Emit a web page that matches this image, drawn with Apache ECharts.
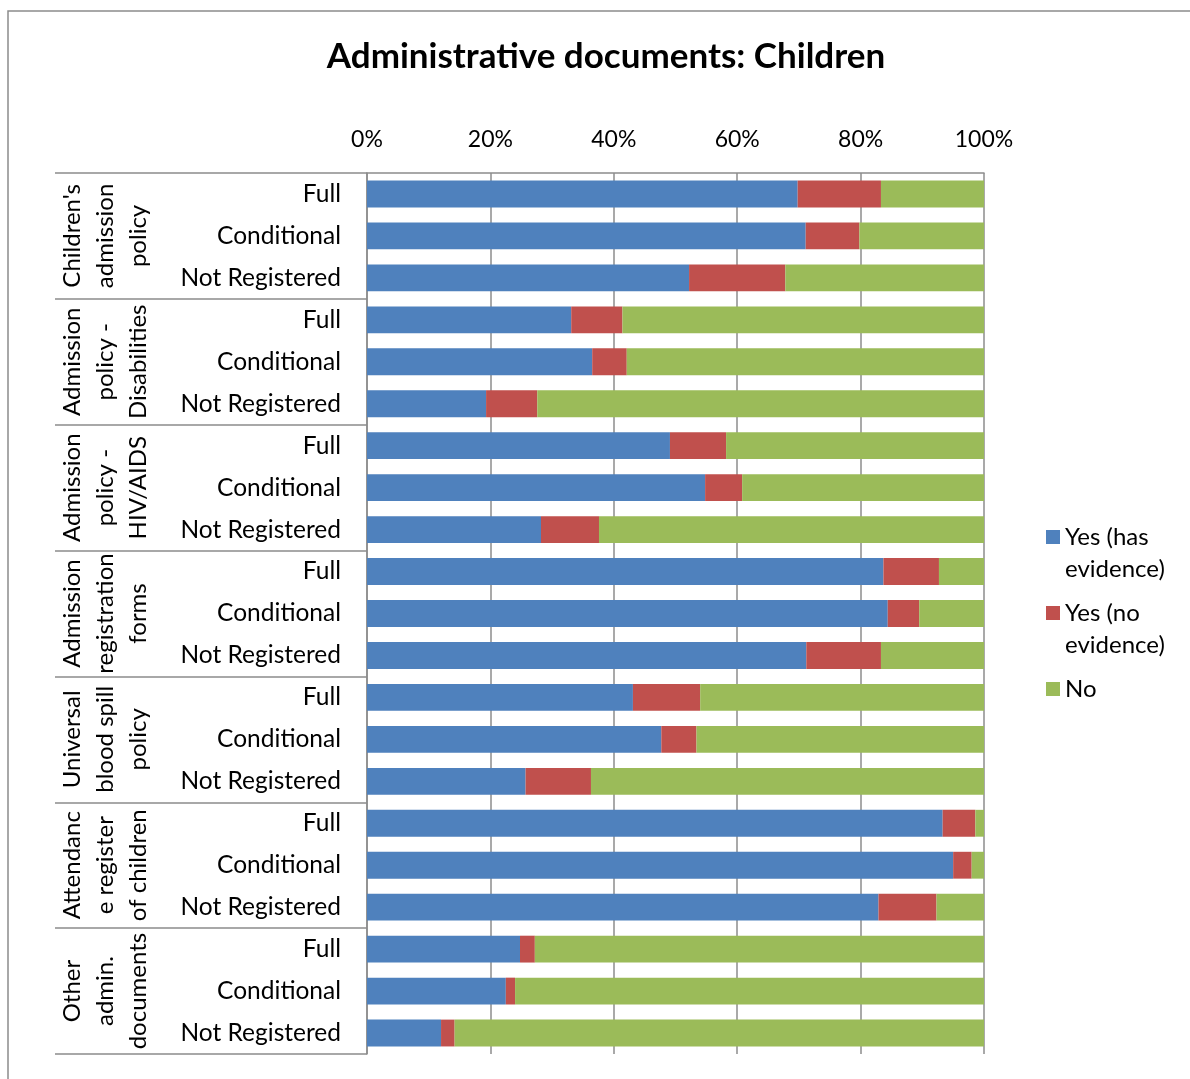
<!DOCTYPE html>
<html>
<head>
<meta charset="UTF-8" />
<title>Administrative documents: Children</title>
<script src="https://cdn.jsdelivr.net/npm/echarts@6/dist/echarts.min.js"></script>
<style>
  html, body { margin: 0; padding: 0; background: #fff; }
  #main { width: 1190px; height: 1079px; }
</style>
</head>
<body>
<div id="main"></div>
<script type="text/javascript">

    // groups (rotated labels on the left)
    var groups = [
        "Children's\nadmission\npolicy",
        "Admission\npolicy -\nDisabilities",
        "Admission\npolicy -\nHIV/AIDS",
        "Admission\nregistration\nforms",
        "Universal\nblood spill\npolicy",
        "Attendanc\ne register\nof children",
        "Other\nadmin.\ndocuments"
    ];
    // sub categories for every group
    var statuses = ["Full", "Conditional", "Not Registered"];

    // series (percent)
    var seriesNames = ["Yes (has evidence)", "Yes (no evidence)", "No"];
    var hasEvidence = [69.8, 71.1, 52.2, 33.1, 36.5, 19.3, 49.1, 54.8, 28.2, 83.7, 84.4, 71.2, 43.1, 47.7, 25.7, 93.3, 95.0, 82.9, 24.8, 22.5, 12.0];
    var noEvidence  = [13.5, 8.7, 15.6, 8.3, 5.6, 8.3, 9.1, 6.0, 9.4, 9.0, 5.1, 12.1, 10.9, 5.7, 10.6, 5.3, 3.0, 9.4, 2.4, 1.5, 2.2];
    var noDoc       = [16.7, 20.2, 32.2, 58.6, 57.9, 72.4, 41.8, 39.2, 62.4, 7.3, 10.5, 16.7, 46.0, 46.6, 63.7, 1.4, 2.0, 7.7, 72.8, 76.0, 85.8];

    var colors = ['#4F81BD', '#C0504D', '#9BBB59'];

    var FONT = 'Lato';
    var gray = '#8c8c8c';

    // one category per bar: "group index|status"
    var rows = [];
    for (let g = 0; g < groups.length; g++) {
        for (let s = 0; s < statuses.length; s++) {
            rows.push(g + '|' + statuses[s]);
        }
    }

    var seriesData = [hasEvidence, noEvidence, noDoc];
    var series = [];
    for (let i = 0; i < seriesNames.length; i++) {
        series.push({
            name: seriesNames[i],
            type: 'bar',
            stack: 'total',
            yAxisIndex: 0,
            barCategoryGap: '36%',
            itemStyle: { color: colors[i] },
            data: seriesData[i]
        });
    }

    // legend: one per item; a blank first line keeps the square beside "Yes (..."
    function makeLegend(name, top) {
        return {
            orient: 'vertical',
            left: 1046,
            top: top,
            padding: 0,
            icon: 'rect',
            itemWidth: 14,
            itemHeight: 14,
            selectedMode: false,
            formatter: function (n) {
                var k = n.indexOf(' (');
                if (k < 0) return n;
                var rest = n.slice(k + 2).split(' ');
                return ' \n' + n.slice(0, k) + ' (' + rest[0] + '\n' + rest.slice(1).join(' ');
            },
            textStyle: {
                fontFamily: FONT,
                fontSize: 24,
                color: '#000',
                lineHeight: 32
            },
            data: [name]
        };
    }

    var option = {
        animation: false,
        title: {
            text: 'Administrative documents: Children',
            left: 601,
            textAlign: 'center',
            top: 34,
            textStyle: { fontFamily: FONT, fontSize: 35, fontWeight: 'bold', color: '#000' }
        },
        legend: [
            makeLegend(seriesNames[0], 489),
            makeLegend(seriesNames[1], 565),
            makeLegend(seriesNames[2], 673)
        ],
        grid: { left: 367, right: 206, top: 173, bottom: 25, containLabel: false },
        xAxis: {
            type: 'value',
            position: 'top',
            min: 0,
            max: 100,
            interval: 20,
            axisLine: { show: true, lineStyle: { color: gray, width: 1.5 } },
            axisTick: { show: false },
            splitLine: { show: true, lineStyle: { color: gray, width: 1.5 } },
            axisLabel: {
                margin: 22,
                fontFamily: FONT,
                fontSize: 23,
                color: '#000',
                formatter: function (v) { return v + '%'; }
            }
        },
        yAxis: [
            {
                type: 'category',
                inverse: true,
                data: rows,
                axisLine: { show: true, lineStyle: { color: gray, width: 1.5 } },
                axisTick: { show: false },
                axisLabel: {
                    interval: 0,
                    margin: 26,
                    fontFamily: FONT,
                    fontSize: 24.5,
                    color: '#000',
                    formatter: function (v) { return v.split('|')[1]; }
                }
            },
            {
                type: 'category',
                inverse: true,
                position: 'left',
                data: groups,
                axisLine: { show: false },
                axisTick: { show: true, interval: 0, length: 312, lineStyle: { color: gray, width: 1.5 } },
                axisLabel: {
                    interval: 0,
                    rotate: 90,
                    margin: 262,
                    align: 'center',
                    verticalAlign: 'middle',
                    lineHeight: 33,
                    fontFamily: FONT,
                    fontSize: 24,
                    color: '#000'
                }
            }
        ],
        graphic: [{
            type: 'rect',
            silent: true,
            shape: { x: 8, y: 11, width: 1400, height: 1300 },
            style: { fill: 'none', stroke: gray, lineWidth: 1.5 }
        }],
        series: series
    };

    var myChart = echarts.init(document.getElementById('main'));
    myChart.setOption(option);
</script>
</body>
</html>
